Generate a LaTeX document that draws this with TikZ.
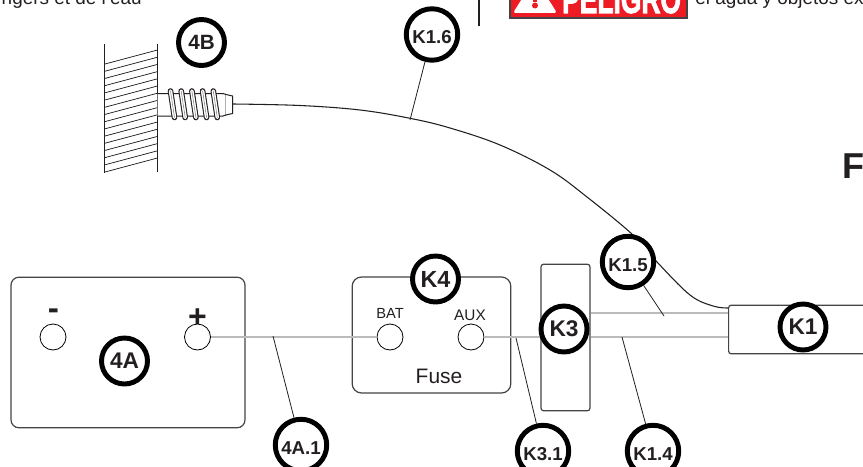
\documentclass[tikz,border=0pt]{standalone}
\usepackage{fontspec}
\setmainfont{Liberation Sans}
\newfontfamily\signfont[BoldFeatures={FakeBold=2.5}]{Liberation Sans}
\definecolor{ink}{HTML}{231F20}
\definecolor{boxline}{HTML}{444444}
\definecolor{wire}{HTML}{BBBBBB}
\definecolor{signred}{HTML}{ED1C24}
\tikzset{
  x=0.75pt,y=-0.75pt,
  tag/.style={circle,draw=black,fill=white,line width=3.7pt,inner sep=0pt,text=ink,font=\bfseries\fontsize{#1}{#1}\selectfont},
  smalltag/.style={tag=17pt,minimum size=34.5pt},
  bigtag/.style={tag=14pt,minimum size=38.6pt,text height=14pt,text depth=0pt},
  term/.style={circle,draw=black,fill=white,line width=0.6pt,minimum size=19.5pt,inner sep=0pt},
  housing/.style={draw=boxline,line width=0.9pt,fill=white,inner sep=0pt},
  wireline/.style={draw=wire,line width=1.3pt},
  lead/.style={draw=ink,line width=0.6pt},
  cable/.style={draw=ink,line width=0.8pt},
  hatchline/.style={draw=ink,line width=0.55pt},
  coil/.style={line cap=round},
  label/.style={text=ink,inner sep=0pt},
}
\begin{document}
\begin{tikzpicture}
\clip (0,0) rectangle (863,467);
\fill[white] (0,0) rectangle (863,467);
% cropped page text
\node[label,anchor=base east,font=\fontsize{14.2pt}{15pt}\selectfont] (fr) at (142,5) {ngers et de l'eau};
\node[label,anchor=base west,font=\fontsize{14.2pt}{15pt}\selectfont] (es) at (695,5) {el agua y objetos ex};
\node[label,anchor=base west,font=\bfseries\fontsize{27pt}{27pt}\selectfont] (fl) at (842,178) {F};
\draw[ink,line width=1.5pt] (479,-2) -- (479,26);
% danger sign
\path[fill=signred,draw=boxline,line width=1.5pt] (509.5,-5) rectangle (686.5,18);
\path[fill=white,rounded corners=2pt] (535,-22) -- (557,13) -- (513,13) -- cycle;
\path[fill=signred] (535,5.5) circle (3);
\path[fill=signred] (533,-4) rectangle (537,2);
\node[anchor=base west,inner sep=0pt,text=white,font=\signfont\bfseries\fontsize{30pt}{30pt}\selectfont,xscale=.66] (pel) at (562,13) {PELIGRO};
% wall with hatch
\draw[hatchline,line width=.75pt] (104.5,44) -- (104.5,173);
\draw[hatchline,line width=.75pt] (157.5,44) -- (157.5,172);
\foreach \i in {0,...,15}{
  \draw[hatchline] (105,64+7.2*\i) -- (157.5,50+7.2*\i);
}
% screw
\draw[ink,line width=.75pt,fill=white] (157.5,93.5) -- (223,93.5) -- (226,94.5) -- (226,115) -- (223,116) -- (157.5,116);
\draw[ink,line width=.75pt,fill=white] (226,94.5) -- (232.5,96) -- (232.5,113.5) -- (226,115);
\foreach \i in {0,...,4}{
  \draw[coil,ink,line width=4.2pt] (170.5+10.7*\i,91) -- (174.5+10.7*\i,117.5);
  \draw[coil,white,line width=2.6pt] (170.5+10.7*\i,91) -- (174.5+10.7*\i,117.5);
  \draw[coil,gray,line width=.4pt] (170.5+10.7*\i,91) -- (174.5+10.7*\i,117.5);
}
% cable
\coordinate (cs) at (233,104);
\coordinate (ce) at (728,308);
\draw[cable] plot[smooth,tension=.6] coordinates {(cs) (300,105.5) (360,110) (410,118.3) (450,128) (500,145) (550,170) (587,197) (633,235) (657,262) (690,295) (713,306) (ce)};
% housings
\node[housing,rounded corners=6pt,minimum width=175.5pt,minimum height=113pt] (batt) at (128,352.5) {};
\node[housing,rounded corners=7pt,minimum width=119pt,minimum height=87pt] (fuse) at (431.5,335) {};
\node[housing,rounded corners=2pt,minimum width=36.7pt,minimum height=110pt] (k3b) at (565.5,337.5) {};
\node[housing,rounded corners=2pt,minimum width=150pt,minimum height=36.5pt,anchor=west] (k1b) at (728,329.5) {};
% printed labels
\node[label,font=\bfseries\fontsize{25pt}{25pt}\selectfont] (ms) at (53.5,314) {-};
\node[label,font=\bfseries\fontsize{24pt}{24pt}\selectfont] (ps) at (197.5,318) {+};
\node[label,font=\fontsize{11pt}{11pt}\selectfont] (bt) at (390,313) {BAT};
\node[label,font=\fontsize{11.5pt}{12pt}\selectfont] (ax) at (470,315) {AUX};
\node[label,font=\fontsize{15.7pt}{16pt}\selectfont] (fs) at (439,376) {Fuse};
% terminals
\node[term] (minus) at (53,337) {};
\node[term] (plus) at (197.5,337) {};
\node[term] (bat) at (390,337) {};
\node[term] (aux) at (471,337) {};
\coordinate (w15) at (590,313);
% wires
\draw[wireline] (plus) -- (bat);
\draw[wireline] (aux) -- (aux -| k3b.west);
\draw[wireline] (aux -| k3b.east) -- (aux -| k1b.west);
\draw[wireline] (w15 -| k3b.east) -- (w15 -| k1b.west);
% callout targets
\coordinate (a4a) at (273,336);
\coordinate (a31) at (516,338);
\coordinate (a14) at (622,337);
\coordinate (a15) at (664,316);
\coordinate (a16) at (410,120);
% callouts
\node[smalltag] (t4b) at (201.5,42.5) {\fontsize{15.5pt}{16pt}\selectfont 4B};
\node[bigtag] (k16) at (432,34.5) {K1.6};
\node[bigtag] (k15) at (628,262) {K1.5};
\node[smalltag] (k1) at (803,327) {K1};
\node[bigtag] (k14) at (653,451) {K1.4};
\node[bigtag] (k31) at (543,451) {K3.1};
\node[smalltag] (k3) at (564,329) {K3};
\node[smalltag] (k4) at (435.5,279) {\fontsize{17.5pt}{18pt}\selectfont K4};
\node[smalltag] (t4a) at (124.5,361) {4A};
\node[bigtag] (t4a1) at (301,445) {4A.1};
% leaders
\draw[lead] (k16) -- (a16);
\draw[lead] (k15) -- (a15);
\draw[lead] (k14) -- (a14);
\draw[lead] (k31) -- (a31);
\draw[lead] (t4a1) -- (a4a);
\end{tikzpicture}
\end{document}
